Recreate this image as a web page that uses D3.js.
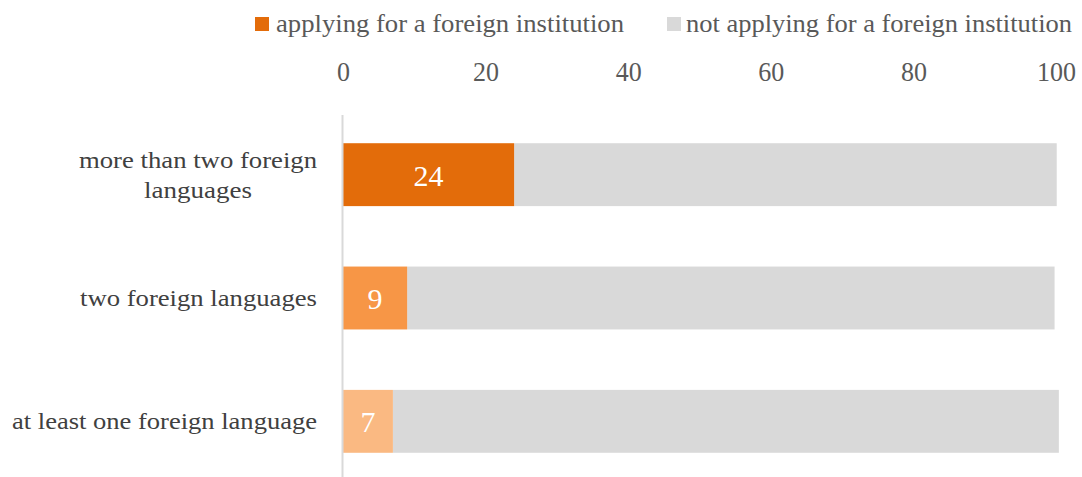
<!DOCTYPE html>
<html>
<head>
<meta charset="utf-8">
<script src="https://cdn.jsdelivr.net/npm/d3@7"></script>
<style>
  html, body { margin: 0; padding: 0; background: #fff; }
  svg { display: block; }
  text { font-family: "Liberation Serif", "DejaVu Serif", serif; }
</style>
</head>
<body>
<svg id="chart" width="1082" height="477"></svg>
<script>
// Share of respondents by number of foreign languages spoken
const categories = [
  ["more than two foreign", "languages"],
  ["two foreign languages"],
  ["at least one foreign language"]
];
const applying = [24, 9, 7];
const notApplying = [76.1, 90.8, 93.4];
const applyingColors = ["#E36C0A", "#F79646", "#FAB982"];
const seriesNames = ["applying for a foreign institution", "not applying for a foreign institution"];
const tickValues = [0, 20, 40, 60, 80, 100];

const svg = d3.select("#chart");
const width = 1082, height = 477;

const x = d3.scaleLinear().domain([0, 100]).range([343, 1056]);
const y = d3.scaleBand()
  .domain(d3.range(categories.length))
  .range([113, 483])
  .paddingInner(0.49)
  .paddingOuter(0.245);

// Fit a text element to a given width
function fit(sel, w) {
  sel.attr("textLength", w).attr("lengthAdjust", "spacingAndGlyphs");
}

// Legend
const legend = svg.append("g");
const legendItems = [
  { name: seriesNames[0], color: applyingColors[0], sx: 255, tx: 276, w: 348 },
  { name: seriesNames[1], color: "#D9D9D9", sx: 667, tx: 686, w: 386 }
];
legendItems.forEach(d => {
  legend.append("rect").attr("x", d.sx).attr("y", 17).attr("width", 14).attr("height", 14).attr("fill", d.color);
  legend.append("text").attr("x", d.tx).attr("y", 32)
    .attr("font-size", 26).attr("fill", "#595959")
    .text(d.name).call(fit, d.w);
});

// Top axis (labels only)
const axis = svg.append("g").attr("transform", "translate(0,81)")
  .call(d3.axisTop(x).tickValues(tickValues).tickSize(0).tickPadding(0));
axis.select(".domain").remove();
axis.selectAll("text")
  .attr("font-family", "Liberation Serif, DejaVu Serif, serif")
  .attr("font-size", 28).attr("fill", "#595959")
  .attr("dy", 0)
  .each(function(d) { d3.select(this).call(fit, String(d).length * 13); });

// Bars
const rows = svg.append("g");
categories.forEach((c, i) => {
  rows.append("rect")
    .attr("x", x(applying[i])).attr("y", y(i))
    .attr("width", x(applying[i] + notApplying[i]) - x(applying[i]))
    .attr("height", y.bandwidth()).attr("fill", "#D9D9D9");
  rows.append("rect")
    .attr("x", x(0)).attr("y", y(i))
    .attr("width", x(applying[i]) - x(0))
    .attr("height", y.bandwidth()).attr("fill", applyingColors[i]);
  rows.append("text")
    .attr("x", (x(0) + x(applying[i])) / 2)
    .attr("y", y(i) + y.bandwidth() / 2 + 11)
    .attr("text-anchor", "middle").attr("font-size", 30).attr("fill", "#fff")
    .text(applying[i]);
});

// Vertical baseline
svg.append("line")
  .attr("x1", x(0) - 0.5).attr("x2", x(0) - 0.5)
  .attr("y1", 115).attr("y2", height)
  .attr("stroke", "#D9D9D9").attr("stroke-width", 2);

// Category labels (widths per line)
const labelWidths = [[238, 108], [237], [305]];
const labels = svg.append("g");
categories.forEach((lines, i) => {
  const cy = y(i) + y.bandwidth() / 2;
  const lh = 30;
  lines.forEach((ln, k) => {
    const t = labels.append("text")
      .attr("font-size", 24).attr("fill", "#404040")
      .attr("y", cy + 8 + (k - (lines.length - 1) / 2) * lh)
      .text(ln).call(fit, labelWidths[i][k]);
    if (lines.length === 1) {
      t.attr("x", 317).attr("text-anchor", "end");
    } else {
      t.attr("x", 198).attr("text-anchor", "middle");
    }
  });
});
</script>
</body>
</html>
